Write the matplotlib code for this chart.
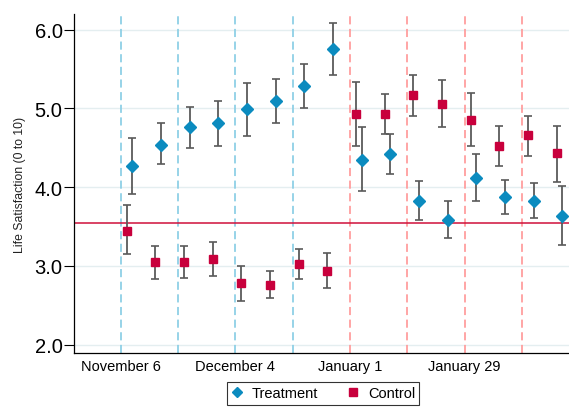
import matplotlib
matplotlib.use("Agg")
import matplotlib.pyplot as plt
import numpy as np

plt.rcParams['font.family'] = ['Liberation Sans', 'DejaVu Sans']

# week index since November 6
weeks = np.arange(16)

treat_mean = [4.27, 4.54, 4.76, 4.81, 4.99, 5.09, 5.28, 5.76,
              4.35, 4.42, 3.83, 3.59, 4.12, 3.87, 3.83, 3.64]
treat_lo = [3.91, 4.29, 4.50, 4.53, 4.65, 4.82, 5.01, 5.43,
            3.95, 4.17, 3.58, 3.35, 3.82, 3.66, 3.61, 3.27]
treat_hi = [4.62, 4.81, 5.02, 5.10, 5.33, 5.37, 5.56, 6.09,
            4.76, 4.68, 4.08, 3.82, 4.42, 4.09, 4.05, 4.01]

ctrl_mean = [3.45, 3.05, 3.05, 3.09, 2.79, 2.76, 3.03, 2.94,
             4.93, 4.93, 5.17, 5.06, 4.86, 4.52, 4.66, 4.43]
ctrl_lo = [3.15, 2.83, 2.85, 2.87, 2.56, 2.59, 2.84, 2.72,
           4.52, 4.67, 4.90, 4.77, 4.53, 4.27, 4.40, 4.07]
ctrl_hi = [3.77, 3.25, 3.26, 3.31, 3.00, 2.93, 3.22, 3.16,
           5.34, 5.19, 5.42, 5.36, 5.20, 4.78, 4.91, 4.78]

baseline = 3.54
period_weeks = [0, 2, 4, 6, 8, 10, 12, 14]
post_start = 8
tick_weeks = [0, 4, 8, 12]
tick_labels = ['November 6', 'December 4', 'January 1', 'January 29']

blue = '#0b8bbf'
red = '#c8003c'

fig = plt.figure(figsize=(5.69, 4.10), dpi=100)
ax = fig.add_axes([0.1306, 0.1366, 0.8694, 0.8268])

for w in period_weeks:
    c = '#ff9e9e' if w >= post_start else '#8fd0e6'
    ax.axvline(w, color=c, lw=1.3, linestyle=(0, (4.5, 2.5)), zorder=1)

ax.axhline(baseline, color='#d0103a', lw=1.1, zorder=2)

tm = np.array(treat_mean)
cm = np.array(ctrl_mean)
xt = weeks + 0.405
xc = weeks + 0.205

ax.errorbar(xt, tm, yerr=[tm - np.array(treat_lo), np.array(treat_hi) - tm],
            fmt='none', ecolor='#5a5a5a', elinewidth=1.3, capsize=3, capthick=1.2, zorder=3)
ax.errorbar(xc, cm, yerr=[cm - np.array(ctrl_lo), np.array(ctrl_hi) - cm],
            fmt='none', ecolor='#5a5a5a', elinewidth=1.3, capsize=3, capthick=1.2, zorder=3)
ax.plot(xt, tm, 'D', color=blue, ms=6.2, mec=blue, zorder=4, label='Treatment')
ax.plot(xc, cm, 's', color=red, ms=6, mec=red, zorder=4, label='Control')

ax.set_xlim(-1.62, 15.64)
ax.set_ylim(1.895, 6.2)
ax.set_yticks([2, 3, 4, 5, 6])
ax.set_yticklabels(['%.1f' % v for v in [2, 3, 4, 5, 6]])
ax.set_xticks(tick_weeks)
ax.set_xticklabels(tick_labels)
ax.grid(axis='y', color='#e4eef0', lw=1, zorder=0)
ax.set_axisbelow(True)

ax.tick_params(axis='y', labelsize=14.5, length=7, width=0.8, pad=1.5)
ax.tick_params(axis='x', labelsize=10.5, length=0, pad=4)
ax.set_ylabel('Life Satisfaction (0 to 10)', fontsize=8.8, labelpad=6, color='#222222')

for s in ['top', 'right']:
    ax.spines[s].set_visible(False)
for s in ['left', 'bottom']:
    ax.spines[s].set_color('black')
    ax.spines[s].set_linewidth(0.9)

leg = fig.legend(loc='upper center', bbox_to_anchor=(0.568, 0.066), ncol=2,
                 fontsize=10.5, frameon=True, fancybox=False, edgecolor='black',
                 handlelength=0.8, handletextpad=0.6, columnspacing=2.0,
                 borderpad=0.3, borderaxespad=0, markerscale=0.9)
leg.get_frame().set_linewidth(0.8)

fig.savefig('out.png', dpi=100)
